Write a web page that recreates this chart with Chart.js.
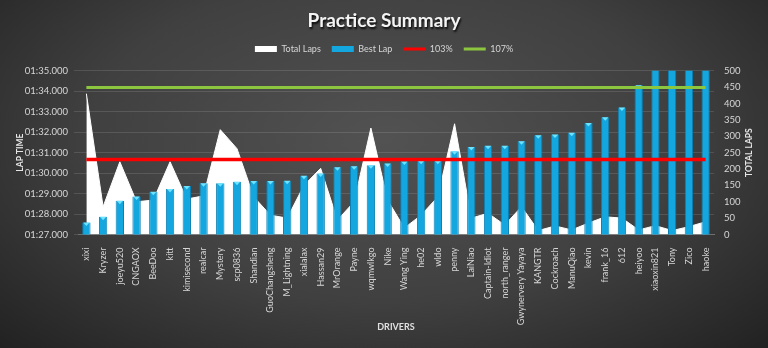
<!DOCTYPE html>
<html>
<head>
<meta charset="utf-8">
<title>Practice Summary</title>
<script src="https://cdn.jsdelivr.net/npm/chart.js"></script>
<style>
  html, body { margin: 0; padding: 0; }
  body {
    width: 768px;
    height: 348px;
    overflow: hidden;
    background: radial-gradient(ellipse 70% 85% at 50% 40%, #525252 0%, #404040 55%, #222222 100%);
  }
  .wrap { position: relative; width: 768px; height: 348px; }
</style>
</head>
<body>
<div class="wrap"><canvas id="practiceChart"></canvas></div>
<script>
// ---- data ----------------------------------------------------------
const drivers = [
  'xixi', 'Kryzer', 'joeyu520', 'CNGAOX', 'BeeDoo', 'kitt', 'kimisecond', 'realcar',
  'Mystery', 'scp0836', 'Shandian', 'GuoChangsheng', 'M_Lightning', 'xialalax',
  'Hassan29', 'MrOrange', 'Payne', 'wqmwlkgo', 'Nike', 'Wang Ying', 'he02', 'wldo',
  'penny', 'LaiNiao', 'Captain-Idiot', 'north_ranger', 'Gwynervery Yayaya', 'KANGTR',
  'Cockroach', 'ManuQiao', 'kevin', 'frank_16', '612', 'heiyoo', 'xiaoxin821',
  'Tony', 'Zico', 'haoke'
];

// best lap in seconds (87.58 = 01:27.580)
const bestLap = [
  87.58, 87.87, 88.65, 88.86, 89.09, 89.22, 89.37, 89.50,
  89.50, 89.58, 89.61, 89.61, 89.62, 89.87,
  89.98, 90.28, 90.33, 90.38, 90.47, 90.57, 90.60, 90.60,
  91.07, 91.27, 91.33, 91.33, 91.56, 91.85,
  91.89, 91.97, 92.45, 92.73, 93.20, 94.29, 95.30,
  95.90, 96.40, 97.20
];

const totalLaps = [
  430, 85, 222, 100, 105, 222, 108, 118,
  320, 262, 115, 59, 50, 150,
  202, 44, 100, 325, 105, 20, 59, 115,
  338, 50, 65, 29, 85, 12,
  26, 14, 35, 54, 50, 14, 27,
  12, 24, 39
];

const limit103 = 90.66;
const limit107 = 94.18;

const lapTimeTicks = { min: 87, max: 95, step: 1 };
const lapCountTicks = { min: 0, max: 500, step: 50 };

// ---- helpers -------------------------------------------------------
const pad2 = n => String(n).padStart(2, '0');
function fmtLap(sec) {
  const m = Math.floor(sec / 60);
  const s = sec - m * 60;
  return pad2(m) + ':' + s.toFixed(3).padStart(6, '0');
}

const TXT = '#d6d6d6';
const RED = '#ff0000';
const GREEN = '#8cc63f';
const CYAN = '#14a6de';

Chart.defaults.font.family = 'Lato, "Open Sans", sans-serif';
Chart.defaults.color = TXT;

// extra room under the legend, plus a shadow on the title
const layoutTweaks = {
  id: 'layoutTweaks',
  beforeInit(chart) {
    const legendFit = chart.legend.fit;
    chart.legend.fit = function () {
      legendFit.call(this);
      this.height += 7.3;
    };
    const titleDraw = chart.titleBlock.draw;
    chart.titleBlock.draw = function () {
      const c = chart.ctx;
      c.save();
      c.shadowColor = 'rgba(0,0,0,0.85)';
      c.shadowOffsetX = 1;
      c.shadowOffsetY = 2;
      c.shadowBlur = 2;
      titleDraw.apply(this, arguments);
      c.restore();
    };
  }
};

// small light bevel on top of each bar that is not cut by the axis max
const barBevel = {
  id: 'barBevel',
  afterDatasetDraw(chart, args) {
    if (args.meta.type !== 'bar') return;
    const { ctx, chartArea } = chart;
    ctx.save();
    args.meta.data.forEach(bar => {
      if (bar.y <= chartArea.top + 1) return;
      const half = bar.width / 2;
      ctx.fillStyle = '#6fe3ff';
      ctx.beginPath();
      ctx.moveTo(bar.x - half + 1, bar.y);
      ctx.lineTo(bar.x + half - 1, bar.y);
      ctx.lineTo(bar.x, bar.y + 3.5);
      ctx.closePath();
      ctx.fill();
    });
    ctx.restore();
  }
};

// right axis title, reading bottom to top like the left one
const rightTitle = {
  id: 'rightTitle',
  afterDraw(chart) {
    const { ctx, chartArea } = chart;
    ctx.save();
    ctx.translate(749, (chartArea.top + chartArea.bottom) / 2);
    ctx.rotate(-Math.PI / 2);
    ctx.font = 'bold 8.5px Lato, "Open Sans", sans-serif';
    ctx.fillStyle = '#e6e6e6';
    ctx.textAlign = 'center';
    ctx.textBaseline = 'middle';
    ctx.fillText('TOTAL LAPS', 0, 0);
    ctx.restore();
  }
};

const legendItems = [
  { text: 'Total Laps', fillStyle: '#ffffff', strokeStyle: '#ffffff', lineWidth: 0, pointStyle: 'rect', datasetIndex: 0 },
  { text: 'Best Lap', fillStyle: CYAN, strokeStyle: CYAN, lineWidth: 0, pointStyle: 'rect', datasetIndex: 1 },
  { text: '103%', fillStyle: RED, strokeStyle: RED, lineWidth: 3, pointStyle: 'line', datasetIndex: 2 },
  { text: '107%', fillStyle: GREEN, strokeStyle: GREEN, lineWidth: 3, pointStyle: 'line', datasetIndex: 3 }
];

new Chart(document.getElementById('practiceChart'), {
  data: {
    labels: drivers,
    datasets: [
      {
        type: 'line',
        label: 'Total Laps',
        data: totalLaps,
        yAxisID: 'y1',
        borderColor: '#ffffff',
        borderWidth: 1,
        backgroundColor: '#ffffff',
        fill: 'origin',
        tension: 0,
        pointRadius: 0,
        order: 3
      },
      {
        type: 'bar',
        label: 'Best Lap',
        data: bestLap,
        yAxisID: 'y',
        backgroundColor: CYAN,
        borderColor: '#0b7fb2',
        borderWidth: { left: 1, right: 1, top: 0, bottom: 0 },
        barPercentage: 0.5,
        categoryPercentage: 1,
        clip: 0,
        order: 2
      },
      {
        type: 'line',
        label: '103%',
        data: drivers.map(() => limit103),
        yAxisID: 'y',
        borderColor: RED,
        borderWidth: 3.5,
        pointRadius: 0,
        fill: false,
        order: 1
      },
      {
        type: 'line',
        label: '107%',
        data: drivers.map(() => limit107),
        yAxisID: 'y',
        borderColor: GREEN,
        borderWidth: 3,
        pointRadius: 0,
        fill: false,
        order: 1
      }
    ]
  },
  options: {
    responsive: true,
    maintainAspectRatio: false,
    animation: false,
    layout: { padding: 0 },
    plugins: {
      title: {
        display: true,
        text: 'Practice Summary',
        color: '#f4f4f4',
        font: { size: 19, weight: 'bold' },
        padding: { top: 9.6, bottom: 1 }
      },
      legend: {
        display: true,
        position: 'top',
        labels: {
          usePointStyle: true,
          pointStyleWidth: 22,
          boxHeight: 6,
          padding: 11,
          font: { size: 9 },
          color: TXT,
          generateLabels: () => legendItems.map(it => ({ ...it, fontColor: TXT, hidden: false }))
        }
      },
      tooltip: { enabled: false }
    },
    scales: {
      x: {
        grid: { display: false },
        border: { display: true, color: '#6f6f6f', width: 1 },
        ticks: {
          autoSkip: false,
          maxRotation: 90,
          minRotation: 90,
          padding: 5,
          color: TXT,
          font: { size: 9 }
        },
        title: {
          display: true,
          text: 'DRIVERS',
          color: '#e0e0e0',
          font: { size: 9, weight: 'bold' },
          padding: { top: 0, bottom: 15.6 }
        },
        afterFit(scale) { scale.height = 113.5; }
      },
      y: {
        position: 'left',
        min: lapTimeTicks.min,
        max: lapTimeTicks.max,
        grid: { color: 'rgba(255,255,255,0.12)', drawTicks: true, tickLength: 4 },
        border: { display: false },
        ticks: {
          stepSize: lapTimeTicks.step,
          padding: 6,
          color: TXT,
          font: { size: 9.5 },
          callback: v => fmtLap(v)
        },
        title: {
          display: true,
          text: 'LAP TIME',
          color: '#e6e6e6',
          font: { size: 8.5, weight: 'bold' },
          padding: { top: 15, bottom: 0 }
        },
        afterFit(scale) { scale.width = 78; }
      },
      y1: {
        position: 'right',
        min: lapCountTicks.min,
        max: lapCountTicks.max,
        grid: { display: false, drawTicks: false },
        border: { display: false },
        ticks: {
          stepSize: lapCountTicks.step,
          padding: 10,
          color: TXT,
          font: { size: 9.5 }
        },
        afterFit(scale) { scale.width = 54; }
      }
    }
  },
  plugins: [layoutTweaks, barBevel, rightTitle]
});
</script>
</body>
</html>
